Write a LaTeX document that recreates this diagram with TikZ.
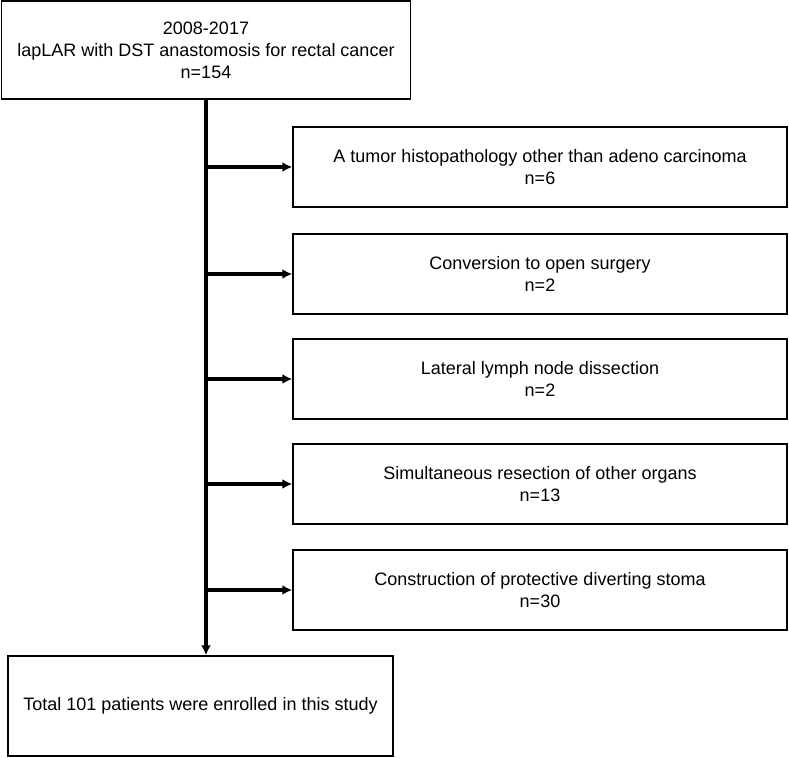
\documentclass[tikz,border=0pt]{standalone}
\usepackage{fontspec}
\setmainfont{Liberation Sans}
\usetikzlibrary{arrows.meta}

\begin{document}
\begin{tikzpicture}[x=0.75pt,y=-0.75pt,
every node/.style={font=\fontsize{13.5}{16.5}\selectfont},
box/.style={draw, line width=1.1pt, align=center, inner sep=0pt},
side/.style={box, minimum width=370.5pt, minimum height=60pt},
flow/.style={line width=2.3pt, -{Latex[length=7.5pt,width=7.5pt]}}]
\useasboundingbox (0,0) rectangle (789,757);
\node [box, minimum width=306.75pt, minimum height=73.5pt] (cohort) at (206,50)
  {2008-2017\\lapLAR with DST anastomosis for rectal cancer\\n=154};
\node [side] (histo) at (540,167) {A tumor histopathology other than adeno carcinoma\\n=6};
\node [side] (convert) at (540,274) {Conversion to open surgery\\n=2};
\node [side] (lymph) at (540,379) {Lateral lymph node dissection\\n=2};
\node [side] (organs) at (540,484) {Simultaneous resection of other organs\\n=13};
\node [side] (stoma) at (540,590) {Construction of protective diverting stoma\\n=30};
\node [box, minimum width=288.75pt, minimum height=75pt] (enrolled) at (200.5,706)
  {Total 101 patients were enrolled in this study};
\draw [flow] (cohort.south) -- (cohort.south |- enrolled.north);
\foreach \n in {histo,convert,lymph,organs,stoma}
  \draw [flow] (cohort.south |- \n.west) -- (\n.west);
\end{tikzpicture}
\end{document}
